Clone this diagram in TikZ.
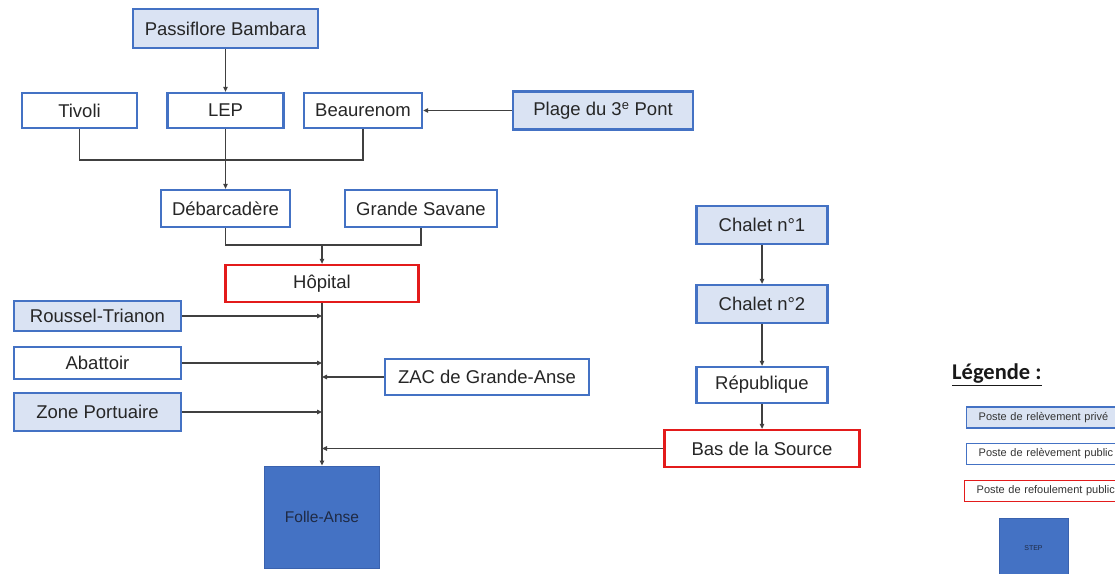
\documentclass[tikz,border=0pt]{standalone}
\usepackage{fontspec}
\setmainfont{Liberation Sans}
\newfontfamily\calib{Carlito}
\usetikzlibrary{arrows.meta}
\definecolor{bxblue}{HTML}{4472C4}
\definecolor{bxfill}{HTML}{DAE3F3}
\definecolor{bxred}{HTML}{E31B1B}
\definecolor{lncol}{HTML}{404040}
\definecolor{stepborder}{HTML}{3A62AE}
\definecolor{steptext}{HTML}{1F2A44}
\tikzset{
  base/.style={rectangle, line width=2.3pt, inner sep=0pt, font=\fontsize{18.5}{20}\selectfont, text=black!85},
  priv/.style={base, draw=bxblue, fill=bxfill},
  pub/.style={base, draw=bxblue, fill=white},
  refl/.style={base, draw=bxred, fill=white},
  stepbox/.style={rectangle, draw=stepborder, line width=1pt, fill=bxblue, inner sep=0pt, text=steptext},
  lgbox/.style={rectangle, line width=1.3pt, anchor=west, inner xsep=12pt, inner ysep=0pt, text width=150pt, align=left, minimum height=21pt, font=\fontsize{11}{12}\selectfont, text=black!80},
  conn/.style={draw=lncol, line width=1.1pt},
  arr/.style={conn, -{Triangle[length=5pt,width=4.5pt]}}
}
\begin{document}
\begin{tikzpicture}[x=1pt,y=-1pt]
\useasboundingbox (0,0) rectangle (1115,573);
\clip (0,0) rectangle (1115,573);
\fill[white] (0,0) rectangle (1115,573);
% nodes
\node[priv, minimum width=185pt, minimum height=39pt] (pb) at (225.5,28.5) {Passiflore Bambara};
\node[pub, minimum width=115pt, minimum height=35pt] (tiv) at (79.5,110.5) {Tivoli};
\node[pub, minimum width=116pt, minimum height=35pt] (lep) at (225.5,110.5) {LEP};
\node[pub, minimum width=118pt, minimum height=35pt] (beau) at (363,110.5) {Beaurenom};
\node[priv, minimum width=180pt, minimum height=38pt] (plage) at (603,110.5) {Plage du 3\textsuperscript{e} Pont};
\node[pub, minimum width=129pt, minimum height=37pt] (deb) at (225.5,208.5) {Débarcadère};
\node[pub, minimum width=152pt, minimum height=37pt] (gs) at (421,208.5) {Grande Savane};
\node[refl, minimum width=193pt, minimum height=37pt] (hop) at (322,283.5) {Hôpital};
\node[priv, minimum width=167pt, minimum height=30pt] (rt) at (97.5,316) {Roussel-Trianon};
\node[pub, minimum width=167pt, minimum height=32pt] (aba) at (97.5,363) {Abattoir};
\node[priv, minimum width=167pt, minimum height=38pt] (zp) at (97.5,412) {Zone Portuaire};
\node[pub, minimum width=204pt, minimum height=36pt] (zac) at (487,377) {ZAC de Grande-Anse};
\node[stepbox, minimum width=115pt, minimum height=102pt, font=\fontsize{15.5}{16}\selectfont] (fa) at (322,517) {Folle-Anse};
\node[priv, minimum width=131pt, minimum height=38pt] (c1) at (762,225) {Chalet n°1};
\node[priv, minimum width=131pt, minimum height=38pt] (c2) at (762,304) {Chalet n°2};
\node[pub, minimum width=131pt, minimum height=36pt] (rep) at (762,385) {République};
\node[refl, minimum width=195pt, minimum height=37pt] (bds) at (762,448.5) {Bas de la Source};
% junction coordinates
\coordinate (j1) at (225.5,160);
\coordinate (j2) at (322,245);
\coordinate (mrt) at (322,316);
\coordinate (maba) at (322,363);
\coordinate (mzac) at (322,377);
\coordinate (mzp) at (322,412);
\coordinate (mbds) at (322,448.5);
% connectors
\draw[arr] (pb.south) -- (lep.north);
\draw[arr] (plage.west) -- (beau.east);
\draw[conn] (tiv.south) |- (j1) -| (beau.south);
\draw[arr] (lep.south) -- (deb.north);
\draw[conn] (deb.south) |- (j2) -| (gs.south);
\draw[arr] (j2) -- (hop.north);
\draw[arr] (hop.south) -- (fa.north);
\draw[arr] (rt.east) -- (mrt);
\draw[arr] (aba.east) -- (maba);
\draw[arr] (zp.east) -- (mzp);
\draw[arr] (zac.west) -- (mzac);
\draw[arr] (bds.west) -- (mbds);
\draw[arr] (c1.south) -- (c2.north);
\draw[arr] (c2.south) -- (rep.north);
\draw[arr] (rep.south) -- (bds.north);
% legend
\node[anchor=west, inner sep=0pt, font=\calib\bfseries\fontsize{22.5}{24}\selectfont, text=black!90] (lgt) at (952,375) {\underline{Légende :}};
\node[lgbox, draw=bxblue, fill=bxfill] (lg1) at (966,417.5) {Poste de relèvement privé};
\node[lgbox, draw=bxblue, fill=white] (lg2) at (966,454) {Poste de relèvement public};
\node[lgbox, draw=bxred, fill=white] (lg3) at (964,491) {Poste de refoulement public};
\node[stepbox, minimum width=69pt, minimum height=60pt, font=\fontsize{7}{8}\selectfont] (lgstep) at (1033.5,548) {STEP};
\end{tikzpicture}
\end{document}
